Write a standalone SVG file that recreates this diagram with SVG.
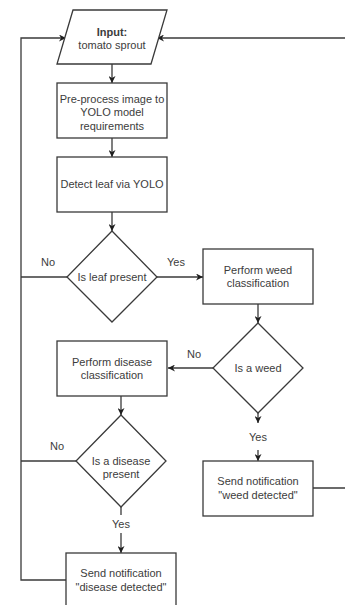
<svg xmlns="http://www.w3.org/2000/svg" width="345" height="605" viewBox="0 0 345 605">
  <style>
    .shape { fill: #ffffff; stroke: #3a3a3a; stroke-width: 1.3; }
    .edge { fill: none; stroke: #3a3a3a; stroke-width: 1.3; }
    text { font-family: "Liberation Sans", Arial, sans-serif; font-size: 11px; fill: #3c3c3c; text-anchor: middle; }
    .bold { font-weight: bold; }
  </style>
  <defs>
    <marker id="arrow" viewBox="0 0 10 10" refX="10" refY="5" markerWidth="7" markerHeight="7" markerUnits="userSpaceOnUse" orient="auto">
      <path d="M0,0 L10,5 L0,10 L3,5 Z" fill="#1e1e1e"/>
    </marker>
  </defs>
  <rect width="345" height="605" fill="#ffffff"/>

  <g id="connectors">
    <line class="edge" x1="112" y1="64" x2="112" y2="83" marker-end="url(#arrow)"/>
    <line class="edge" x1="112" y1="138" x2="112" y2="157" marker-end="url(#arrow)"/>
    <line class="edge" x1="112" y1="212" x2="112" y2="231" marker-end="url(#arrow)"/>
    <line class="edge" x1="157" y1="277" x2="203" y2="277" marker-end="url(#arrow)"/>
    <polyline class="edge" points="67,277 21,277"/>
    <line class="edge" x1="258" y1="304" x2="258" y2="323" marker-end="url(#arrow)"/>
    <line class="edge" x1="213" y1="368" x2="168" y2="368" marker-end="url(#arrow)"/>
    <line class="edge" x1="121" y1="396" x2="121" y2="415" marker-end="url(#arrow)"/>
    <line class="edge" x1="76" y1="461" x2="21" y2="461"/>
    <line class="edge" x1="258" y1="413" x2="258" y2="423" marker-end="url(#arrow)"/>
    <line class="edge" x1="258" y1="450" x2="258" y2="461" marker-end="url(#arrow)"/>
    <line class="edge" x1="121" y1="507" x2="121" y2="515"/>
    <line class="edge" x1="121" y1="533" x2="121" y2="553" marker-end="url(#arrow)"/>
    <polyline class="edge" points="66,580 21,580 21,38 66,38" marker-end="url(#arrow)"/>
    <polyline class="edge" points="313,488 346,488"/>
    <line class="edge" x1="346" y1="38" x2="157" y2="38" marker-end="url(#arrow)"/>
  </g>

  <g id="input">
    <polygon class="shape" points="73,10 167,10 151,64 57,64"/>
    <text x="112" y="36" class="bold">Input:</text>
    <text x="112" y="49">tomato sprout</text>
  </g>

  <g id="preprocess">
    <rect class="shape" x="57" y="83" width="110" height="55"/>
    <text x="112" y="103">Pre-process image to</text>
    <text x="112" y="116">YOLO model</text>
    <text x="112" y="130">requirements</text>
  </g>

  <g id="detect-leaf">
    <rect class="shape" x="57" y="157" width="110" height="55"/>
    <text x="112" y="188">Detect leaf via YOLO</text>
  </g>

  <g id="leaf-present">
    <polygon class="shape" points="112,231 157,277 112,322 67,277"/>
    <text x="112" y="281">Is leaf present</text>
    <text x="48" y="266">No</text>
    <text x="176" y="266">Yes</text>
  </g>

  <g id="weed-classification">
    <rect class="shape" x="203" y="249" width="110" height="55"/>
    <text x="258" y="274">Perform weed</text>
    <text x="258" y="287">classification</text>
  </g>

  <g id="is-weed">
    <polygon class="shape" points="258,323 303,368 258,413 213,368"/>
    <text x="258" y="372">Is a weed</text>
    <text x="194" y="358">No</text>
    <text x="258" y="441">Yes</text>
  </g>

  <g id="disease-classification">
    <rect class="shape" x="57" y="341" width="110" height="55"/>
    <text x="112" y="366">Perform disease</text>
    <text x="112" y="379">classification</text>
  </g>

  <g id="disease-present">
    <polygon class="shape" points="121,415 166,461 121,507 76,461"/>
    <text x="121" y="465">Is a disease</text>
    <text x="121" y="478">present</text>
    <text x="57" y="450">No</text>
    <text x="121" y="528">Yes</text>
  </g>

  <g id="notify-weed">
    <rect class="shape" x="203" y="461" width="110" height="55"/>
    <text x="258" y="485">Send notification</text>
    <text x="258" y="499">"weed detected"</text>
  </g>

  <g id="notify-disease">
    <rect class="shape" x="66" y="553" width="110" height="55"/>
    <text x="121" y="577">Send notification</text>
    <text x="121" y="591">"disease detected"</text>
  </g>
</svg>
